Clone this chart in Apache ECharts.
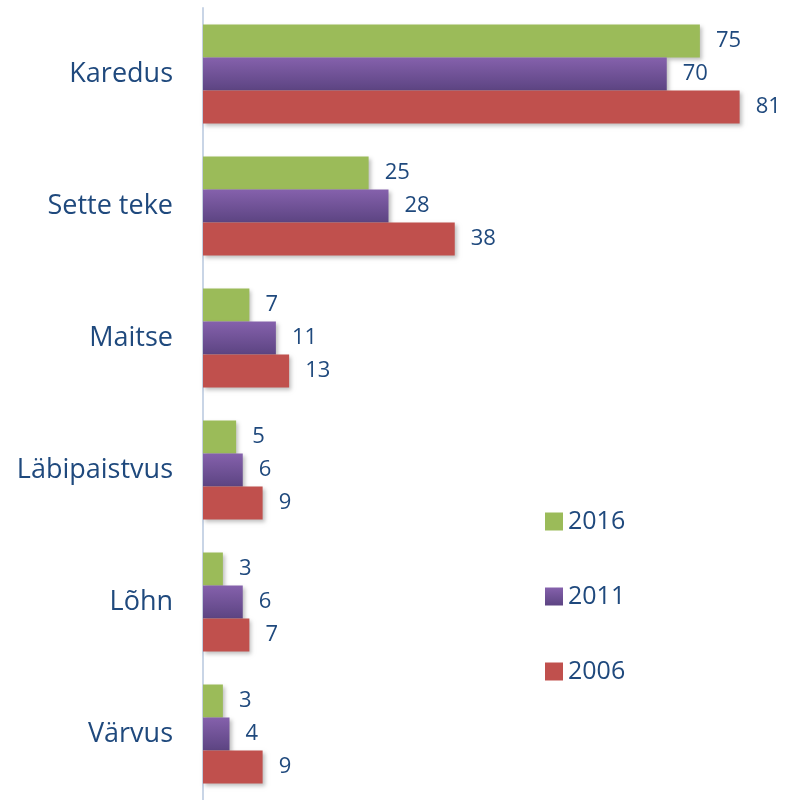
<!DOCTYPE html>
<html>
<head>
<meta charset="utf-8">
<script src="https://cdn.jsdelivr.net/npm/echarts@6/dist/echarts.min.js"></script>
<style>
  html, body { margin: 0; padding: 0; background: #fff; }
  #chart { width: 786px; height: 800px; }
</style>
</head>
<body>
<div id="chart"></div>
<script>
// categories top to bottom
const categories = ['Karedus', 'Sette teke', 'Maitse', 'Läbipaistvus', 'Lõhn', 'Värvus']
const years = ['2016', '2011', '2006']
const values2016 = [75, 25, 7, 5, 3, 3]
const values2011 = [70, 28, 11, 6, 6, 4]
const values2006 = [81, 38, 13, 9, 7, 9]

const textColor = '#1F497D'
const font = 'Open Sans'

const chart = echarts.init(document.getElementById('chart'))

function makeSeries(name, data, color) {
  return {
    name: name,
    type: 'bar',
    data: data,
    barGap: '0%',
    barCategoryGap: '25%',
    itemStyle: {
      color: color,
      shadowColor: 'rgba(0,0,0,0.25)',
      shadowBlur: 4,
      shadowOffsetX: 2,
      shadowOffsetY: 2
    },
    label: {
      show: true,
      position: 'right',
      distance: 16,
      color: textColor,
      fontFamily: font,
      fontSize: 22
    }
  }
}

const purple = new echarts.graphic.LinearGradient(0, 0, 0, 1, [
  { offset: 0, color: '#8561AC' },
  { offset: 1, color: '#5C4482' }
])

chart.setOption({
  animation: false,
  grid: {
    left: 203,
    right: 0,
    top: 8,
    height: 800
  },
  legend: {
    orient: 'vertical',
    left: 540,
    top: 504,
    itemWidth: 18,
    itemHeight: 18,
    itemGap: 50,
    icon: 'rect',
    textStyle: { color: textColor, fontFamily: font, fontSize: 25 },
    data: years
  },
  xAxis: {
    type: 'value',
    min: 0,
    max: 88,
    show: false
  },
  yAxis: {
    type: 'category',
    data: categories,
    inverse: true,
    axisTick: { show: false },
    axisLine: { lineStyle: { color: '#C9D5E6', width: 2 } },
    axisLabel: {
      color: textColor,
      fontFamily: font,
      fontSize: 27,
      margin: 30
    }
  },
  series: [
    makeSeries('2016', values2016, '#9BBB59'),
    makeSeries('2011', values2011, purple),
    makeSeries('2006', values2006, '#C0504D')
  ]
})
</script>
</body>
</html>
